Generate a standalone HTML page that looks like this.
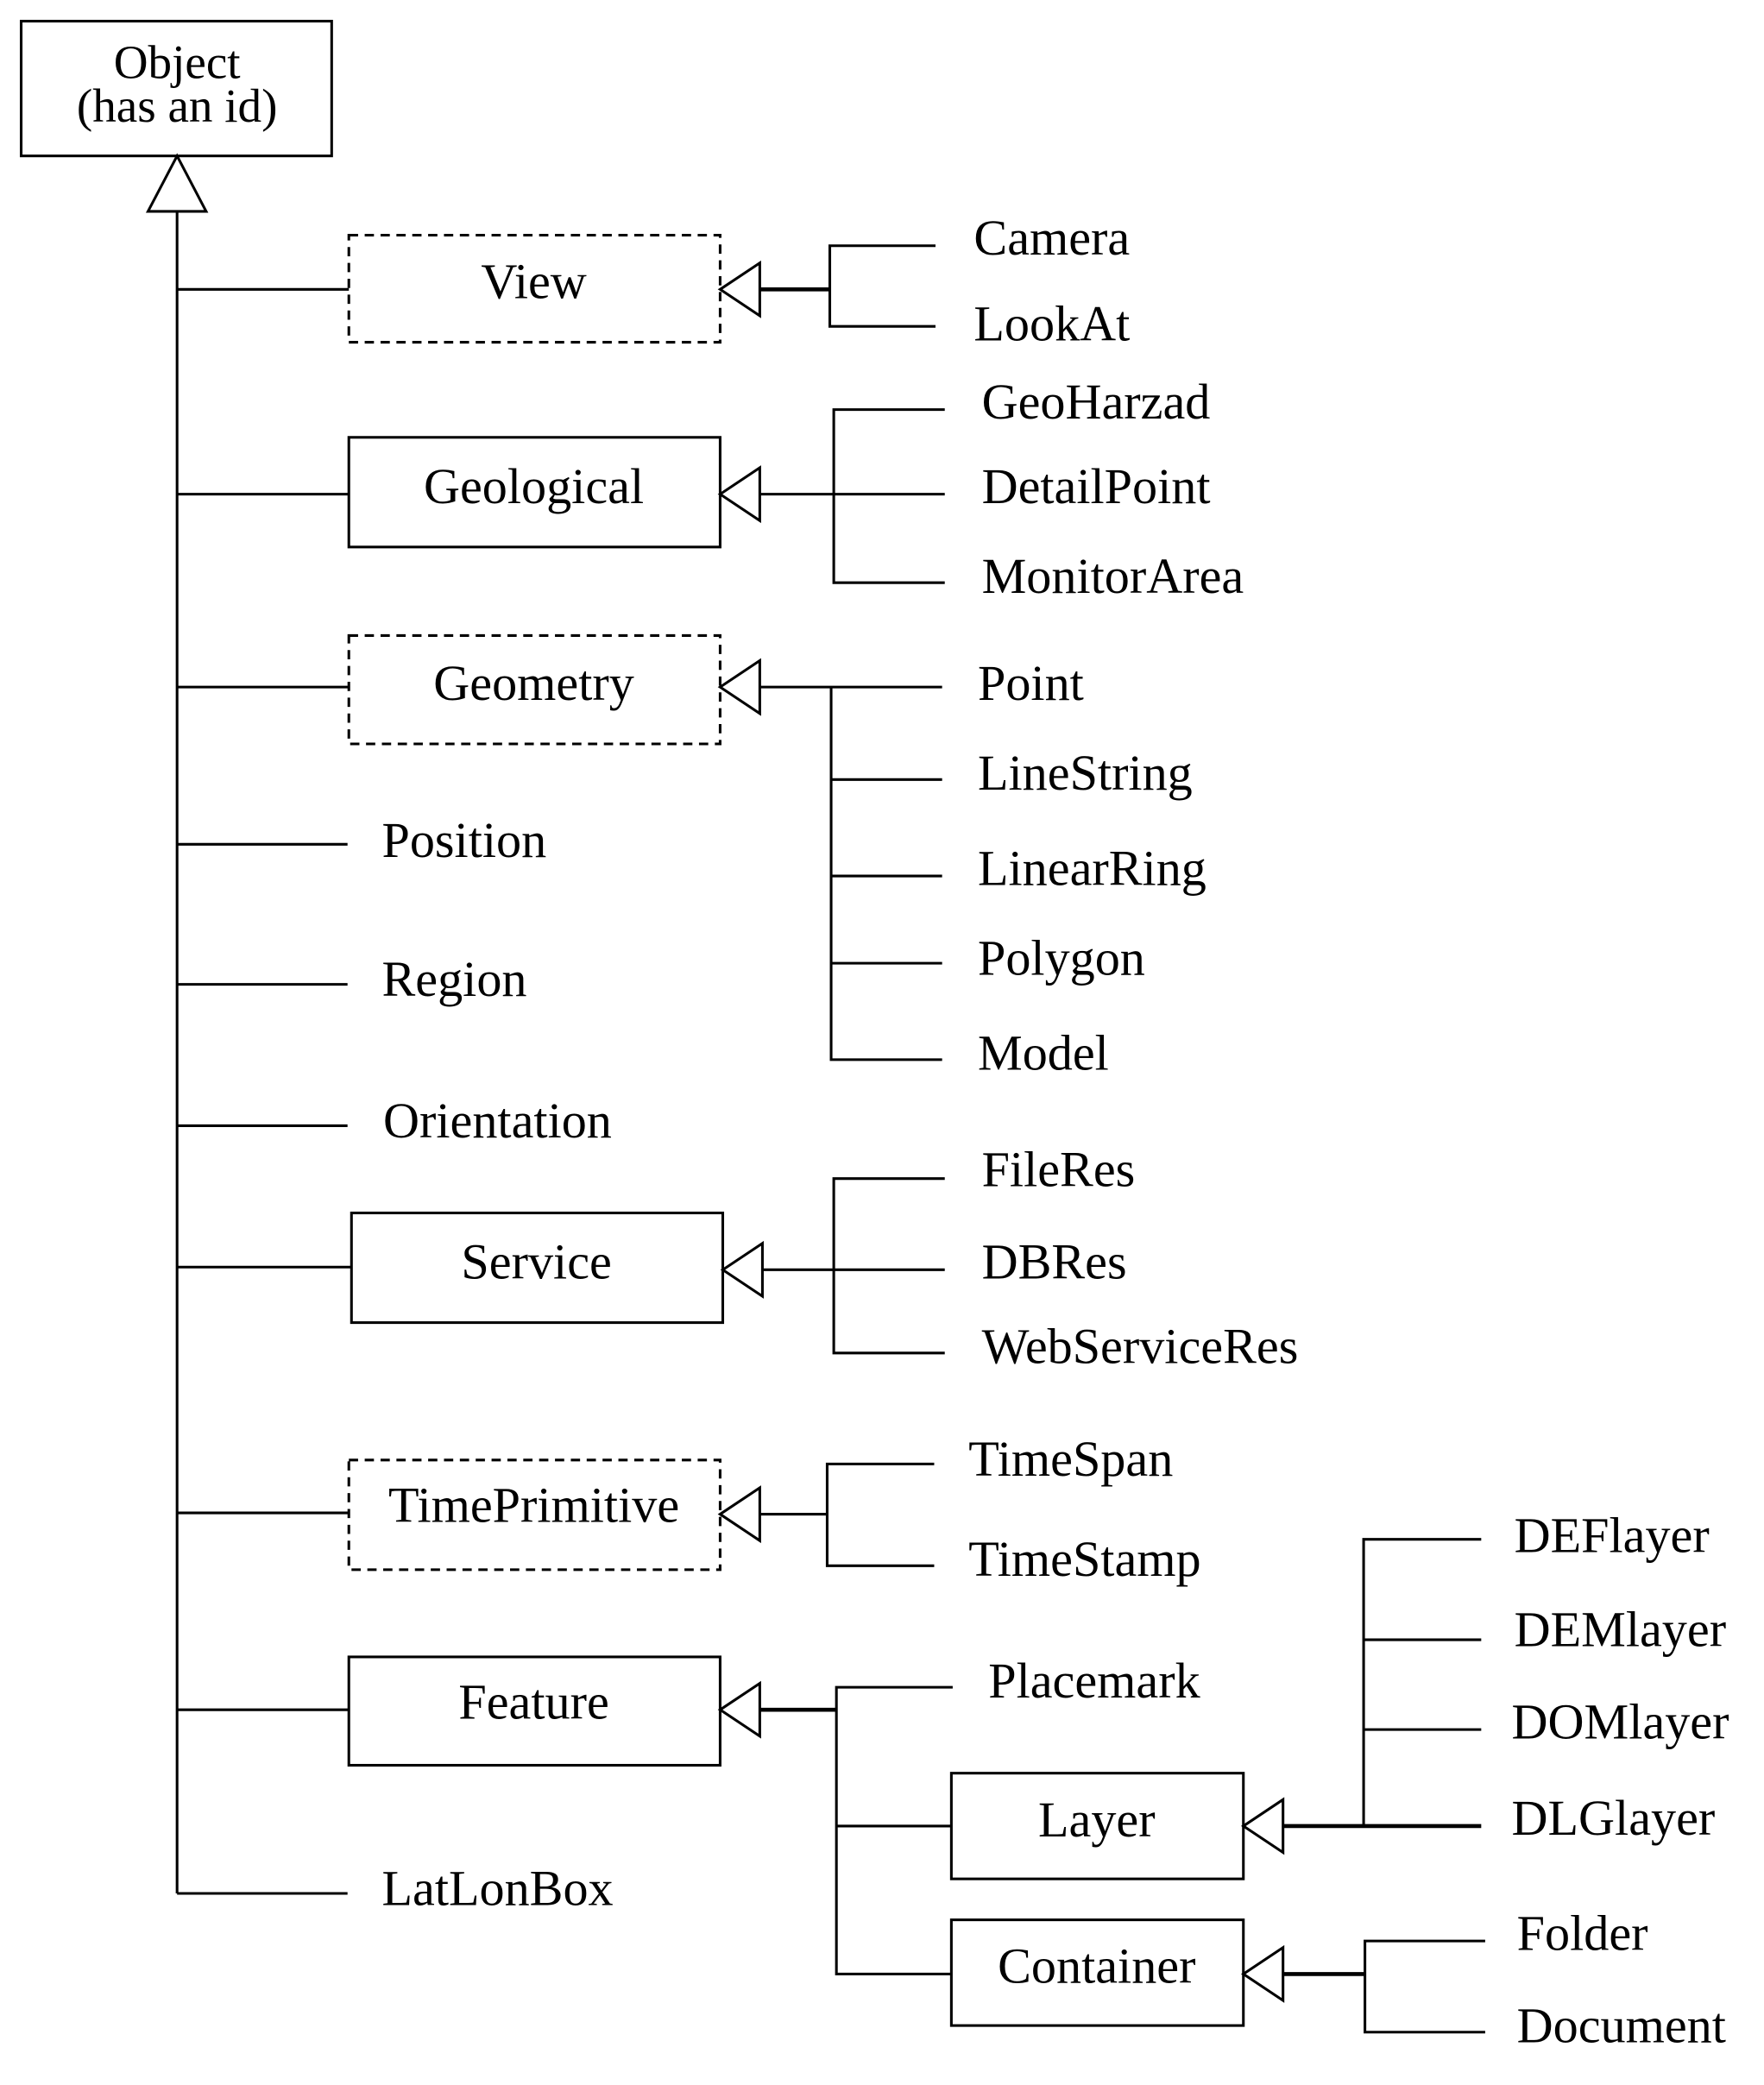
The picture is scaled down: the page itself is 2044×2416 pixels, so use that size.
<!DOCTYPE html>
<html><head><meta charset="utf-8"><style>html,body{margin:0;padding:0;background:#fff}svg{display:block}</style></head>
<body>
<svg width="2044" height="2416" viewBox="0 0 1335 1578" xmlns="http://www.w3.org/2000/svg" font-family="'Liberation Serif', serif" font-size="38" fill="#000">
<g stroke="#000" stroke-width="2" fill="none">
<rect x="16" y="16" width="235" height="102" fill="#fff"/>
<polygon points="134,118 112,160 156,160" fill="#fff"/>
<line x1="134" y1="160" x2="134" y2="1433"/>
<line x1="134" y1="219" x2="264" y2="219"/>
<line x1="134" y1="374" x2="264" y2="374"/>
<line x1="134" y1="520" x2="264" y2="520"/>
<line x1="134" y1="639" x2="263" y2="639"/>
<line x1="134" y1="745" x2="263" y2="745"/>
<line x1="134" y1="852" x2="263" y2="852"/>
<line x1="134" y1="959" x2="266" y2="959"/>
<line x1="134" y1="1145" x2="264" y2="1145"/>
<line x1="134" y1="1294" x2="264" y2="1294"/>
<line x1="134" y1="1433" x2="263" y2="1433"/>
<rect x="264" y="178" width="281" height="81" stroke-dasharray="7,5"/>
<rect x="264" y="331" width="281" height="83"/>
<rect x="264" y="481" width="281" height="82" stroke-dasharray="7,5"/>
<rect x="266" y="918" width="281" height="83"/>
<rect x="264" y="1105" width="281" height="83" stroke-dasharray="7,5"/>
<rect x="264" y="1254" width="281" height="82"/>
<rect x="720" y="1342" width="221" height="80"/>
<rect x="720" y="1453" width="221" height="80"/>
<!-- View -->
<polygon points="545,219 575,199 575,239" fill="#fff"/>
<line x1="575" y1="219" x2="628" y2="219" stroke-width="3"/>
<polyline points="708,186 628,186 628,247 708,247"/>
<!-- Geological -->
<polygon points="545,374 575,354 575,394" fill="#fff"/>
<line x1="575" y1="374" x2="715" y2="374"/>
<polyline points="715,310 631,310 631,441 715,441"/>
<!-- Geometry -->
<polygon points="545,520 575,500 575,540" fill="#fff"/>
<line x1="575" y1="520" x2="713" y2="520"/>
<polyline points="629,520 629,802 713,802"/>
<line x1="629" y1="590" x2="713" y2="590"/>
<line x1="629" y1="663" x2="713" y2="663"/>
<line x1="629" y1="729" x2="713" y2="729"/>
<!-- Service -->
<polygon points="547,961 577,941 577,981" fill="#fff"/>
<line x1="577" y1="961" x2="715" y2="961"/>
<polyline points="715,892 631,892 631,1024 715,1024"/>
<!-- TimePrimitive -->
<polygon points="545,1146 575,1126 575,1166" fill="#fff"/>
<line x1="575" y1="1146" x2="626" y2="1146"/>
<polyline points="707,1108 626,1108 626,1185 707,1185"/>
<!-- Feature -->
<polygon points="545,1294 575,1274 575,1314" fill="#fff"/>
<line x1="575" y1="1294" x2="633" y2="1294" stroke-width="3"/>
<polyline points="721,1277 633,1277 633,1494 720,1494"/>
<line x1="633" y1="1382" x2="720" y2="1382"/>
<!-- Layer -->
<polygon points="941,1382 971,1362 971,1402" fill="#fff"/>
<line x1="971" y1="1382" x2="1121" y2="1382" stroke-width="3"/>
<polyline points="1121,1165 1032,1165 1032,1382"/>
<line x1="1032" y1="1241" x2="1121" y2="1241"/>
<line x1="1032" y1="1309" x2="1121" y2="1309"/>
<!-- Container -->
<polygon points="941,1494 971,1474 971,1514" fill="#fff"/>
<line x1="971" y1="1494" x2="1033" y2="1494" stroke-width="3"/>
<polyline points="1124,1469 1033,1469 1033,1538 1124,1538"/>
</g>
<g dominant-baseline="central">
<text x="134" y="47" text-anchor="middle" font-size="36">Object</text>
<text x="134" y="80" text-anchor="middle" font-size="36">(has an id)</text>
<text x="404" y="213" text-anchor="middle">View</text>
<text x="404" y="368" text-anchor="middle">Geological</text>
<text x="404" y="517" text-anchor="middle">Geometry</text>
<text x="406" y="955" text-anchor="middle">Service</text>
<text x="404" y="1139" text-anchor="middle">TimePrimitive</text>
<text x="404" y="1288" text-anchor="middle">Feature</text>
<text x="830" y="1377" text-anchor="middle">Layer</text>
<text x="830" y="1488" text-anchor="middle">Container</text>
<text x="289" y="636">Position</text>
<text x="289" y="741">Region</text>
<text x="290" y="848">Orientation</text>
<text x="289" y="1429">LatLonBox</text>
<text x="737" y="180">Camera</text>
<text x="737" y="245">LookAt</text>
<text x="743" y="304">GeoHarzad</text>
<text x="743" y="368">DetailPoint</text>
<text x="743" y="436">MonitorArea</text>
<text x="740" y="517">Point</text>
<text x="740" y="585">LineString</text>
<text x="740" y="657">LinearRing</text>
<text x="740" y="725">Polygon</text>
<text x="740" y="797">Model</text>
<text x="743" y="885">FileRes</text>
<text x="743" y="955">DBRes</text>
<text x="743" y="1019">WebServiceRes</text>
<text x="733" y="1104">TimeSpan</text>
<text x="733" y="1180">TimeStamp</text>
<text x="748" y="1272">Placemark</text>
<text x="1146" y="1162">DEFlayer</text>
<text x="1146" y="1233">DEMlayer</text>
<text x="1144" y="1303">DOMlayer</text>
<text x="1144" y="1376">DLGlayer</text>
<text x="1148" y="1463">Folder</text>
<text x="1148" y="1533">Document</text>
</g>
</svg>
</body></html>
